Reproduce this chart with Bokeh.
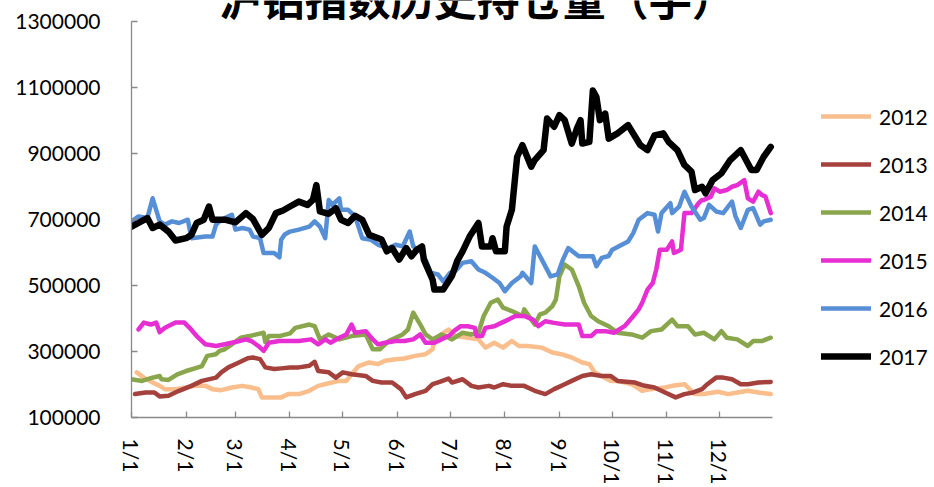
import math
from bokeh.plotting import figure
from bokeh.models import (Range1d, FixedTicker, Label, Legend, LegendItem,
                          ColumnDataSource, BasicTickFormatter)
from bokeh.embed import file_html
from bokeh.resources import INLINE

# ---- data (x = day of year, values in thousands of lots) ----
month_ticks = [0, 31, 59, 90, 120, 151, 181, 212, 243, 273, 304, 334]
month_labels = ["1/1", "2/1", "3/1", "4/1", "5/1", "6/1", "7/1", "8/1", "9/1", "10/1", "11/1", "12/1"]
y_ticks = [100000, 300000, 500000, 700000, 900000, 1100000, 1300000]

days_2012 = [3, 7, 12, 16, 19, 25, 31, 36, 42, 46, 51, 57, 63, 68, 72, 74, 80, 85, 89, 95, 101, 106, 112, 118,
             122, 125, 129, 135, 140, 144, 150, 155, 161, 167, 171, 172, 176, 180, 184, 191, 197, 201, 206, 211,
             216, 220, 225, 233, 239, 244, 250, 256, 260, 263, 267, 272, 276, 284, 290, 295, 303, 307, 314, 320,
             325, 333, 339, 344, 350, 356, 363]
vals_2012 = [237, 221, 206, 196, 186, 186, 191, 196, 196, 186, 183, 191, 196, 191, 186, 161, 161, 161, 171, 171,
             181, 196, 204, 211, 211, 231, 256, 267, 262, 272, 277, 279, 287, 292, 307, 332, 352, 367, 347, 342,
             337, 312, 327, 312, 332, 317, 317, 312, 297, 292, 282, 267, 262, 237, 226, 211, 211, 201, 181, 186,
             191, 196, 201, 171, 171, 178, 171, 176, 181, 176, 171]

days_2013 = [2, 8, 13, 16, 21, 27, 34, 40, 48, 51, 55, 61, 66, 69, 73, 76, 81, 85, 90, 95, 101, 104, 106, 112,
             116, 120, 125, 133, 137, 142, 148, 153, 156, 161, 167, 171, 175, 180, 182, 188, 193, 197, 203, 206,
             211, 216, 223, 229, 235, 240, 246, 250, 256, 261, 267, 272, 276, 286, 290, 297, 303, 309, 314, 319,
             324, 327, 332, 336, 341, 346, 350, 356, 363]
vals_2013 = [171, 176, 176, 164, 166, 181, 196, 211, 221, 237, 252, 267, 280, 282, 277, 252, 247, 249, 252, 252,
             257, 269, 241, 237, 221, 237, 231, 226, 211, 206, 206, 186, 161, 171, 181, 201, 208, 218, 206, 216,
             196, 191, 196, 191, 201, 196, 196, 181, 171, 186, 201, 211, 226, 231, 226, 226, 211, 206, 198, 191,
             176, 161, 171, 176, 186, 201, 221, 221, 216, 201, 201, 206, 208]

days_2014 = [0, 6, 12, 16, 17, 21, 26, 31, 36, 40, 43, 48, 50, 53, 57, 62, 67, 71, 75, 76, 78, 84, 90, 93, 101,
             104, 107, 112, 118, 125, 133, 137, 141, 146, 154, 157, 160, 164, 167, 171, 176, 178, 182, 188, 193,
             197, 200, 204, 208, 211, 216, 222, 223, 229, 232, 235, 239, 241, 243, 246, 250, 254, 257, 261, 265,
             271, 276, 284, 290, 295, 301, 307, 310, 316, 320, 325, 331, 335, 338, 344, 350, 353, 358, 363]
vals_2014 = [216, 211, 221, 226, 216, 214, 231, 241, 249, 256, 287, 292, 302, 307, 322, 342, 347, 352, 357, 329,
             347, 347, 355, 372, 382, 377, 337, 352, 337, 347, 352, 307, 307, 332, 352, 367, 418, 382, 352, 337,
             352, 347, 337, 357, 352, 357, 408, 448, 458, 433, 423, 408, 428, 382, 413, 418, 438, 458, 528, 564,
             549, 498, 448, 408, 392, 377, 357, 352, 342, 362, 367, 397, 377, 377, 352, 357, 337, 362, 342, 337,
             317, 332, 332, 342]

days_2015 = [4, 7, 11, 14, 16, 19, 25, 30, 33, 37, 42, 48, 53, 59, 65, 68, 72, 75, 78, 84, 90, 95, 102, 106, 110,
             113, 118, 122, 125, 127, 133, 137, 140, 144, 150, 155, 160, 164, 167, 172, 176, 181, 183, 187, 191,
             195, 196, 199, 201, 206, 210, 214, 218, 223, 228, 231, 235, 240, 246, 254, 256, 261, 264, 269, 274,
             280, 285, 288, 290, 293, 296, 298, 300, 304, 307, 308, 312, 314, 318, 322, 324, 325, 329, 331, 334,
             338, 341, 344, 348, 350, 353, 356, 358, 360, 363]
vals_2015 = [367, 388, 382, 388, 359, 372, 388, 388, 372, 347, 322, 317, 322, 329, 337, 332, 317, 302, 327, 332,
             332, 332, 337, 322, 337, 327, 342, 352, 382, 357, 362, 337, 322, 327, 332, 332, 337, 352, 327, 327,
             337, 350, 362, 377, 377, 372, 347, 347, 372, 377, 387, 397, 408, 408, 397, 377, 392, 387, 382, 382,
             347, 347, 362, 362, 357, 377, 408, 428, 448, 488, 508, 549, 609, 609, 634, 599, 609, 720, 720, 750,
             760, 760, 770, 795, 785, 790, 800, 805, 820, 765, 755, 785, 775, 770, 720]

days_2016 = [0, 4, 9, 12, 16, 19, 23, 27, 32, 34, 42, 46, 48, 51, 57, 59, 63, 67, 69, 73, 75, 81, 84, 85, 87, 90,
             95, 101, 104, 107, 110, 112, 114, 118, 119, 123, 127, 131, 136, 140, 146, 150, 154, 158, 160, 164,
             167, 170, 174, 177, 181, 184, 188, 193, 197, 201, 205, 209, 212, 216, 221, 222, 227, 229, 233, 238,
             242, 245, 248, 254, 259, 262, 264, 267, 271, 273, 282, 285, 288, 293, 297, 299, 301, 306, 307, 311,
             314, 318, 323, 325, 328, 332, 336, 341, 343, 346, 350, 353, 357, 359, 363]
vals_2016 = [695, 710, 705, 765, 695, 685, 695, 690, 700, 644, 649, 649, 685, 700, 715, 670, 675, 670, 649, 644,
             599, 599, 586, 639, 655, 664, 670, 679, 695, 679, 644, 760, 745, 765, 730, 730, 710, 644, 639, 624,
             614, 624, 619, 664, 619, 604, 579, 539, 534, 513, 539, 545, 569, 574, 549, 539, 524, 508, 483, 508,
             528, 539, 508, 619, 579, 528, 534, 579, 614, 589, 589, 589, 559, 584, 590, 609, 634, 660, 700, 720,
             715, 664, 720, 750, 720, 740, 785, 740, 700, 705, 745, 725, 720, 755, 710, 675, 730, 735, 685, 695,
             700]

days_2017 = [0, 9, 12, 16, 21, 25, 31, 34, 37, 41, 44, 46, 53, 59, 65, 69, 74, 78, 82, 86, 90, 95, 100, 103, 105,
             107, 112, 116, 119, 123, 127, 131, 135, 142, 145, 148, 152, 156, 159, 162, 165, 166, 171, 172, 177,
             182, 185, 188, 192, 197, 199, 204, 205, 207, 212, 213, 216, 219, 222, 227, 229, 234, 236, 240, 243,
             246, 250, 253, 255, 256, 260, 262, 264, 266, 269, 271, 276, 282, 289, 293, 297, 302, 305, 310, 314,
             318, 320, 324, 326, 330, 335, 340, 346, 352, 355, 359, 363]
vals_2017 = [679, 705, 675, 685, 664, 637, 644, 654, 690, 700, 740, 700, 700, 692, 720, 702, 654, 675, 720, 728,
             740, 755, 745, 760, 805, 725, 718, 735, 700, 690, 712, 700, 654, 640, 604, 614, 579, 614, 589, 609,
             619, 579, 518, 488, 488, 530, 575, 604, 649, 690, 619, 619, 644, 604, 604, 679, 730, 891, 926, 861,
             881, 911, 1007, 982, 1017, 1002, 931, 977, 1002, 931, 936, 1092, 1072, 1002, 1022, 946, 962, 987,
             926, 911, 956, 962, 936, 911, 866, 846, 790, 800, 780, 820, 841, 881, 911, 851, 851, 891, 921]

years = ["2012", "2013", "2014", "2015", "2016", "2017"]
series_days = [days_2012, days_2013, days_2014, days_2015, days_2016, days_2017]
series_vals = [vals_2012, vals_2013, vals_2014, vals_2015, vals_2016, vals_2017]
colors = ["#F9BE8C", "#A5413D", "#89A64C", "#E62ED2", "#578FD6", "#000000"]
widths = [4.5, 4.5, 4.5, 4.5, 4.5, 6.5]

FONT = "Lato"
FS = "21px"

# The frame reaches the right and top edges of the canvas so that the legend and the
# (partly cut-off) title sit inside it; the axes are bounded to the data extent.
p = figure(width=934, height=487, output_backend="svg", toolbar_location=None,
           x_range=Range1d(0, 456), y_range=Range1d(100000, 1365000),
           min_border_left=131, min_border_right=0, min_border_top=0, min_border_bottom=68)
p.outline_line_color = None
p.grid.visible = False
p.background_fill_color = "white"
p.border_fill_color = "white"

renderers = []
for yr, ds, vs, c, w in zip(years, series_days, series_vals, colors, widths):
    src = ColumnDataSource(dict(x=ds, y=[v * 1000 for v in vs]))
    r = p.line("x", "y", source=src, line_color=c, line_width=w,
               line_join="round", line_cap="round")
    renderers.append(r)

# axes
for ax in (p.xaxis[0], p.yaxis[0]):
    ax.axis_line_color = "#898989"
    ax.axis_line_width = 1.3
    ax.major_tick_line_color = "#898989"
    ax.major_tick_line_width = 1.3
    ax.major_tick_in = 6
    ax.major_tick_out = 0
    ax.minor_tick_line_color = None
    ax.major_label_text_font = FONT
    ax.major_label_text_font_size = FS
    ax.major_label_text_color = "black"

p.xaxis.bounds = (0, 364)
p.xaxis.ticker = FixedTicker(ticks=month_ticks)
p.xaxis.major_label_overrides = {t: l for t, l in zip(month_ticks, month_labels)}
p.xaxis.major_label_orientation = -math.pi / 2
p.xaxis.major_label_standoff = 21

p.yaxis.bounds = (100000, 1300000)
p.yaxis.ticker = FixedTicker(ticks=y_ticks)
p.yaxis.formatter = BasicTickFormatter(use_scientific=False)
p.yaxis.major_label_standoff = 31

# legend (location = bottom-left corner, relative to the frame)
items = [LegendItem(label=yr, renderers=[r]) for yr, r in zip(years, renderers)]
legend = Legend(items=items, location=(690, 47), padding=0, margin=0, spacing=20,
                glyph_width=50, glyph_height=28, label_height=28, label_standoff=8,
                label_text_font=FONT, label_text_font_size=FS, label_text_color="black",
                border_line_alpha=0, background_fill_alpha=0)
p.add_layout(legend)

# title (partly cut off at the top, as in the reference)
title = Label(x=196, y=1377000,
              text="沪铝指数历史持仓量（手）", text_font="Noto Sans CJK SC",
              text_font_size="43px", text_font_style="bold",
              text_align="center", text_baseline="middle", text_color="black")
p.add_layout(title)

open("out.html", "w").write(file_html(p, INLINE))
